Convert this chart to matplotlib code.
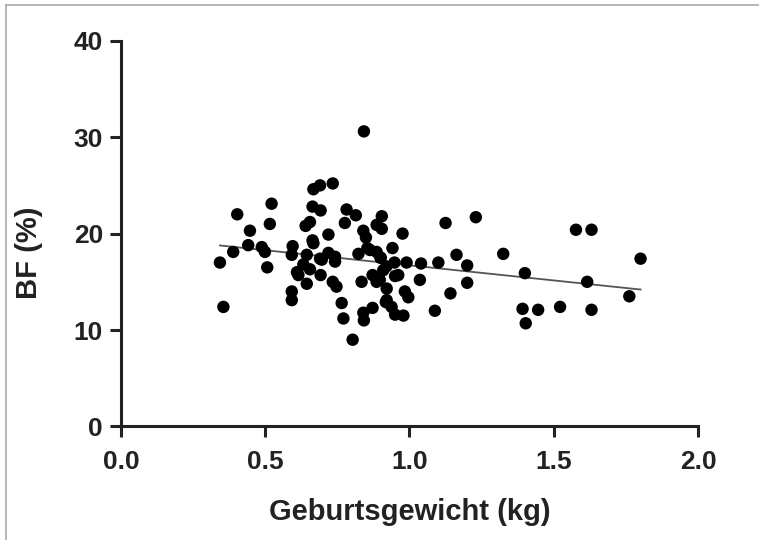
import numpy as np
import matplotlib.pyplot as plt
from matplotlib.lines import Line2D

plt.rcParams['font.family'] = ['Liberation Sans', 'DejaVu Sans']

# -----------------------------
# Data
# -----------------------------
birth_weight = [
    0.343, 0.355, 0.389, 0.403, 0.441, 0.447, 0.488, 0.499, 0.507, 0.516,
    0.522, 0.595, 0.592, 0.592, 0.592, 0.615, 0.632, 0.644, 0.644, 0.640,
    0.655, 0.655, 0.664, 0.667, 0.664, 0.667, 0.690, 0.692, 0.734, 0.690,
    0.692, 0.719, 0.719, 0.742, 0.742, 0.734, 0.747, 0.765, 0.771, 0.776,
    0.782, 0.814, 0.803, 0.823, 0.834, 0.840, 0.842, 0.842, 0.840, 0.849,
    0.854, 0.863, 0.872, 0.872, 0.886, 0.886, 0.886, 0.900, 0.897, 0.904,
    0.904, 0.909, 0.918, 0.921, 0.921, 0.938, 0.941, 0.950, 0.979, 0.961,
    0.976, 0.984, 0.996, 0.900, 0.920, 0.948, 0.990, 1.040, 1.100, 1.036,
    1.088, 1.125, 1.142, 1.163, 1.200, 1.200, 1.230, 1.325, 1.392, 1.400,
    1.403, 1.446, 1.522, 1.577, 1.616, 1.631, 1.631, 1.762, 1.801, 0.696,
    0.610, 0.950,
]
body_fat = [
    17.0, 12.4, 18.1, 22.0, 18.8, 20.3, 18.6, 18.1, 16.5, 21.0,
    23.1, 18.7, 17.8, 14.0, 13.1, 15.7, 16.8, 14.8, 17.8, 20.8,
    21.2, 16.3, 19.3, 19.0, 22.8, 24.6, 25.0, 22.4, 25.2, 17.4,
    15.7, 19.9, 18.0, 17.6, 17.1, 15.0, 14.5, 12.8, 11.2, 21.1,
    22.5, 21.9, 9.0, 17.9, 15.0, 11.8, 11.0, 30.6, 20.3, 19.6,
    18.5, 18.3, 15.7, 12.3, 15.0, 18.1, 20.9, 17.5, 15.2, 21.8,
    20.5, 16.2, 12.9, 14.3, 13.1, 12.4, 18.5, 11.6, 11.5, 15.7,
    20.0, 14.0, 13.4, 17.5, 16.6, 17.0, 17.0, 16.9, 17.0, 15.2,
    12.0, 21.1, 13.8, 17.8, 16.7, 14.9, 21.7, 17.9, 12.2, 15.9,
    10.7, 12.1, 12.4, 20.4, 15.0, 20.4, 12.1, 13.5, 17.4, 17.3,
    16.0, 15.6,
]

x = np.array(birth_weight)
y = np.array(body_fat)

# linear fit
slope, intercept = np.polyfit(x, y, 1)
xf = np.array([x.min(), x.max()])

fig = plt.figure(figsize=(7.59, 5.40), dpi=100)
ax = fig.add_axes([0.1594, 0.2102, 0.7602, 0.7144])

ax.scatter(x, y, s=80, color="black", edgecolors="none", zorder=3, clip_on=False)
ax.plot(xf, slope * xf + intercept, color="#555555", lw=1.3, zorder=2)

ax.set_xlim(0, 2.0)
ax.set_ylim(0, 40)
ax.set_xticks([0.0, 0.5, 1.0, 1.5, 2.0])
ax.set_xticklabels(["0.0", "0.5", "1.0", "1.5", "2.0"])
ax.set_yticks([0, 10, 20, 30, 40])

for s in ["top", "right"]:
    ax.spines[s].set_visible(False)
for s in ["left", "bottom"]:
    ax.spines[s].set_linewidth(2.2)
    ax.spines[s].set_color("#222222")

ax.tick_params(axis="both", direction="out", length=8, width=2.2,
               color="#222222", labelsize=19)
ax.tick_params(axis="x", pad=9)
ax.tick_params(axis="y", pad=5)
for lab in ax.get_xticklabels() + ax.get_yticklabels():
    lab.set_fontweight("bold")
    lab.set_color("#222222")

ax.set_xlabel("Geburtsgewicht (kg)", fontsize=21, fontweight="bold",
              color="#222222", labelpad=17)
ax.set_ylabel("BF (%)", fontsize=21, fontweight="bold", color="#222222")
ax.yaxis.set_label_coords(-0.135, 0.45)

# thin grey frame at the top-left edge of the image
fig.add_artist(Line2D([6 / 759, 1], [1 - 5 / 540, 1 - 5 / 540],
                      transform=fig.transFigure, color="#aaaaaa", lw=1.2))
fig.add_artist(Line2D([6 / 759, 6 / 759], [0, 1 - 5 / 540],
                      transform=fig.transFigure, color="#aaaaaa", lw=1.2))

plt.savefig("out.png", dpi=100)
